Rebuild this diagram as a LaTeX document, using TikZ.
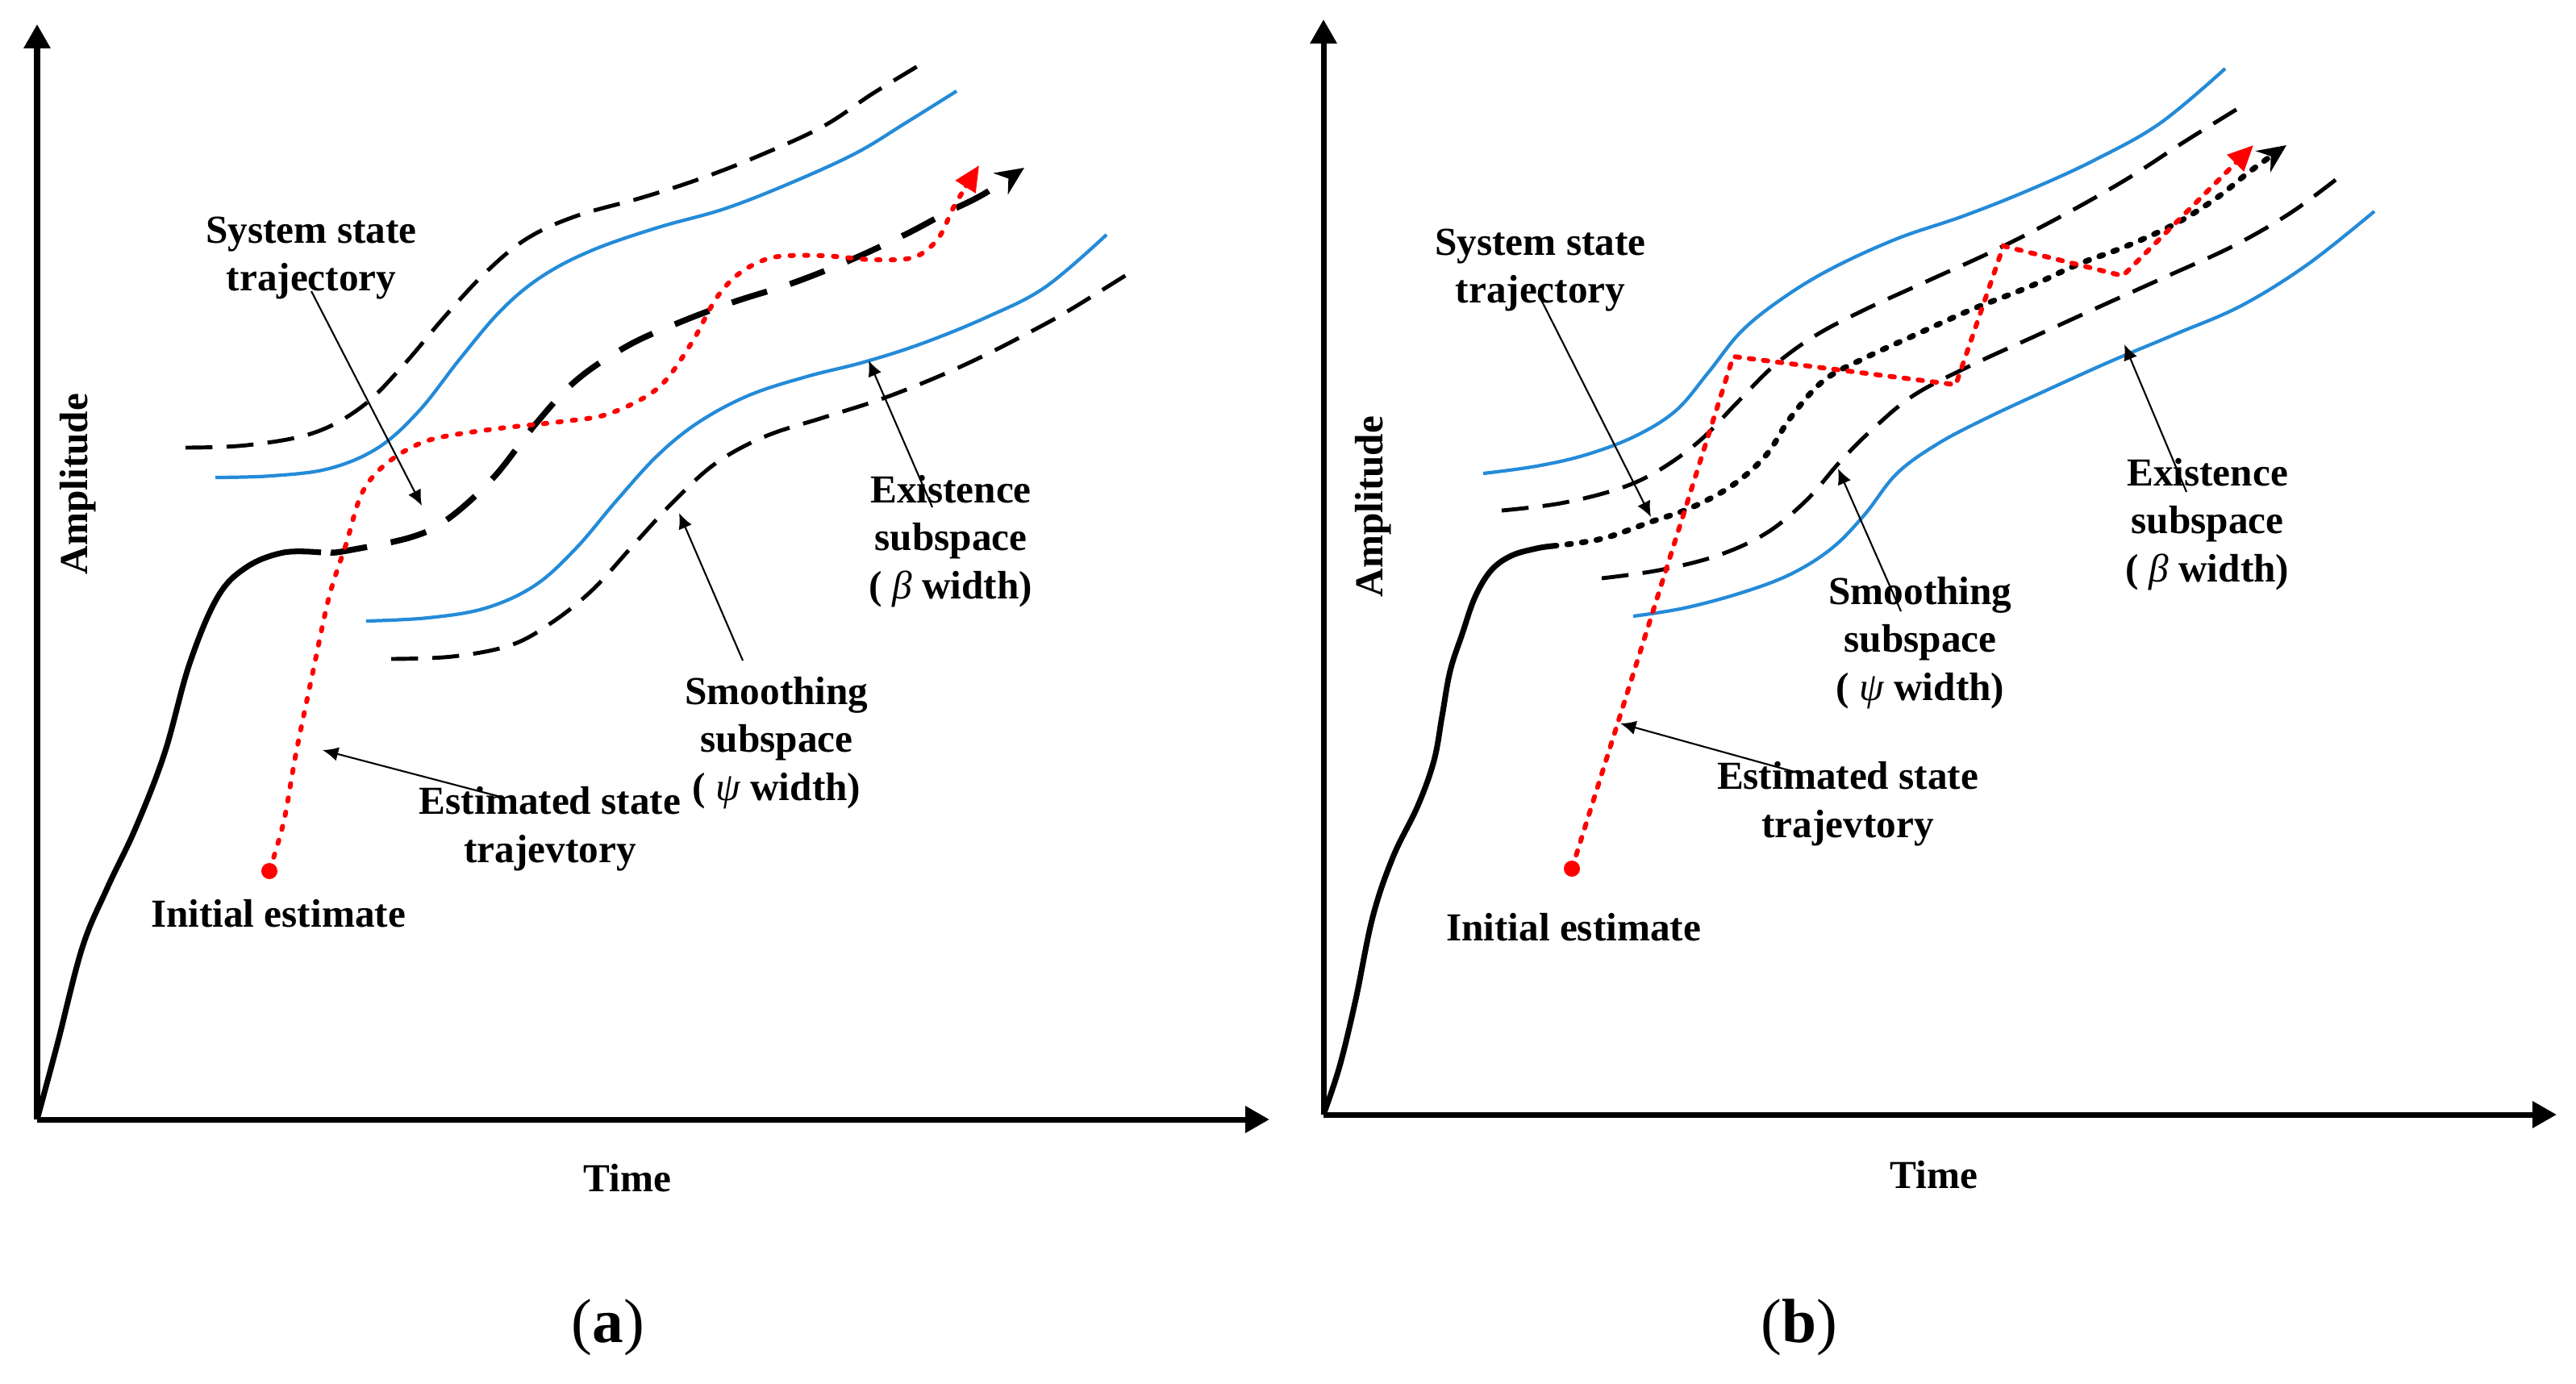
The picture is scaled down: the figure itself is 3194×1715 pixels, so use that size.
\documentclass[tikz,border=0pt]{standalone}
\usepackage{fontspec}
\setmainfont{Liberation Serif}
\usetikzlibrary{arrows.meta}
\definecolor{blueC}{RGB}{36,139,216}
\begin{document}
\begin{tikzpicture}[x=0.01cm,y=-0.01cm,
  lbl/.style={font=\bfseries\fontsize{14}{17}\selectfont, align=center, inner sep=0pt},
  axisline/.style={line width=2pt, -{Triangle[length=8.5pt,width=9pt]}},
  bluecurve/.style={draw=blueC, line width=1.2pt},
  thindash/.style={line width=1.4pt, dash pattern=on 9.5pt off 5pt},
  thickdash/.style={line width=2.1pt, dash pattern=on 13pt off 8.5pt, -{Stealth[length=10pt,width=9pt]}},
  reddot/.style={red, line width=1.7pt, line cap=round, dash pattern=on 1.2pt off 3.9pt, -{Triangle[length=9pt,width=8pt]}},
  reddash/.style={red, line width=1.7pt, line cap=round, dash pattern=on 1.6pt off 3.4pt, -{Triangle[length=9pt,width=8pt]}},
  blackdot/.style={line width=2pt, line cap=round, dash pattern=on 1.4pt off 3.8pt, -{Stealth[length=10pt,width=9pt]}},
  pointer/.style={line width=0.6pt, -{Latex[length=5.5pt,width=5pt]}},
  solidtraj/.style={line width=2pt},
]
\useasboundingbox (0,0) rectangle (3194,1715);

%================ (a) =================
\coordinate (Oa) at (46,1388);
\coordinate (Ya) at (46,30);
\coordinate (Xa) at (1574,1388);
\draw[axisline] (Oa) -- (Ya);
\draw[axisline] (Oa) -- (Xa);
\node[lbl, rotate=90] (ampa) at (97,600) {Amplitude};
\node[lbl] (timea) at (778,1461) {Time};
\node[font=\fontsize{22}{26}\selectfont, inner sep=0pt] (capa) at (754,1646) {(\textbf{a})};

% smoothing boundaries (dashed)
\draw[thindash] plot[smooth, tension=0.6] coordinates {(230,555) (306,552) (388,537) (449,504) (500,453) (551,393) (602,338) (653,296) (714,268) (796,245) (867,222) (939,194) (1020,157) (1082,116) (1143,79)};
\draw[thindash] plot[smooth, tension=0.6] coordinates {(485,817) (561,814) (633,800) (684,772) (735,731) (786,675) (837,620) (888,574) (949,541) (1020,518) (1092,495) (1163,467) (1224,439) (1286,407) (1327,384) (1398,340)};
% existence boundaries (blue)
\draw[bluecurve] plot[smooth, tension=0.6] coordinates {(267,592) (337,590) (408,581) (469,555) (520,509) (571,444) (622,384) (673,342) (735,310) (816,282) (898,259) (980,227) (1061,190) (1122,153) (1186,113)};
\draw[bluecurve] plot[smooth, tension=0.6] coordinates {(454,770) (531,766) (602,754) (663,726) (714,680) (765,620) (816,564) (867,523) (929,490) (1000,467) (1071,449) (1143,426) (1224,393) (1296,356) (1372,291)};

% system state trajectory
\draw[solidtraj] plot[smooth, tension=0.6] coordinates {(46,1388) (71,1295) (102,1175) (133,1101) (168,1027) (204,934) (235,823) (270,740) (306,703) (352,685) (398,685)};
\draw[thickdash] plot[smooth, tension=0.6] coordinates {(410,685) (429,683) (510,666) (556,643) (612,592) (663,527) (714,472) (776,430) (837,402) (908,375) (980,352) (1051,324) (1122,291) (1173,264) (1219,241) (1270,208)};

% estimated trajectory
\draw[reddot] plot[smooth, tension=0.55] coordinates {(334,1080) (352,1018) (367,934) (388,833) (408,740) (429,675) (449,611) (480,574) (531,546) (612,532) (694,523) (755,513) (816,481) (857,426) (888,370) (918,338) (959,319) (1020,317) (1082,322) (1133,319) (1163,296) (1184,254) (1214,205)};
\fill[red] (334,1080) circle[radius=10] coordinate (ia);

% labels
\node[lbl] (ssa) at (386,320) {System state\\trajectory};
\coordinate (ssaS) at (386,361); \coordinate (ssaT) at (523,627);
\draw[pointer] (ssaS) -- (ssaT);
\node[lbl] (exa) at (1179,671) {Existence\\subspace\\( {\mdseries\itshape β} width)};
\coordinate (exaS) at (1156,629); \coordinate (exaT) at (1077,447);
\draw[pointer] (exaS) -- (exaT);
\node[lbl] (sma) at (963,921) {Smoothing\\subspace\\( {\mdseries\itshape ψ} width)};
\coordinate (smaS) at (921,819); \coordinate (smaT) at (842,636);
\draw[pointer] (smaS) -- (smaT);
\node[lbl] (esa) at (682,1028) {Estimated state\\trajevtory};
\coordinate (esaS) at (617,987); \coordinate (esaT) at (400,930);
\draw[pointer] (esaS) -- (esaT);
\node[lbl] (ina) at (345,1133) {Initial estimate};

%================ (b) =================
\coordinate (Ob) at (1641,1382);
\coordinate (Yb) at (1641,24);
\coordinate (Xb) at (3170,1382);
\draw[axisline] (Ob) -- (Yb);
\draw[axisline] (Ob) -- (Xb);
\node[lbl, rotate=90] (ampb) at (1703,628) {Amplitude};
\node[lbl] (timeb) at (2398,1457) {Time};
\node[font=\fontsize{22}{26}\selectfont, inner sep=0pt] (capb) at (2231,1646) {(\textbf{b})};

% existence boundaries (blue)
\draw[bluecurve] plot[smooth, tension=0.6] coordinates {(1839,587) (1905,578) (1966,564) (2027,541) (2078,509) (2118,462) (2159,411) (2210,370) (2271,333) (2352,296) (2434,268) (2515,236) (2596,199) (2678,153) (2759,85)};
\draw[bluecurve] plot[smooth, tension=0.6] coordinates {(2025,764) (2088,754) (2159,735) (2220,712) (2271,680) (2312,638) (2352,587) (2403,550) (2464,518) (2535,485) (2617,448) (2698,414) (2779,379) (2861,328) (2944,262)};
% smoothing boundaries (dashed)
\draw[thindash] plot[smooth, tension=0.6] coordinates {(1862,633) (1935,624) (2007,606) (2057,583) (2108,546) (2154,499) (2200,453) (2251,416) (2312,384) (2393,347) (2474,310) (2556,268) (2637,222) (2708,176) (2779,132)};
\draw[thindash] plot[smooth, tension=0.6] coordinates {(1986,717) (2057,707) (2129,689) (2190,661) (2240,620) (2281,573) (2322,532) (2373,490) (2444,453) (2525,416) (2606,379) (2688,342) (2769,305) (2840,264) (2901,219)};

% system state trajectory
\draw[solidtraj] plot[smooth, tension=0.6] coordinates {(1641,1382) (1661,1322) (1681,1239) (1702,1137) (1727,1063) (1758,999) (1778,943) (1788,888) (1798,832) (1813,786) (1829,740) (1849,707) (1874,689) (1905,680) (1925,677)};
\draw[blackdot] plot[smooth, tension=0.6] coordinates {(1925,677) (1986,668) (2047,647) (2098,629) (2149,601) (2190,564) (2220,518) (2261,472) (2312,444) (2373,416) (2444,384) (2515,356) (2576,328) (2637,305) (2698,277) (2749,245) (2789,213) (2835,180)};

% estimated trajectory
\coordinate (ib) at (1949,1077);
\coordinate (r1) at (2149,442);
\coordinate (r2) at (2425,477);
\coordinate (r3) at (2484,305);
\coordinate (r4) at (2632,342);
\coordinate (r5) at (2794,180);
\draw[reddash] (ib) -- (r1) -- (r2) -- (r3) -- (r4) -- (r5);
\fill[red] (ib) circle[radius=10];

% labels
\node[lbl] (ssb) at (1910,335) {System state\\trajectory};
\coordinate (ssbS) at (1910,370); \coordinate (ssbT) at (2047,641);
\draw[pointer] (ssbS) -- (ssbT);
\node[lbl] (exb) at (2737,650) {Existence\\subspace\\( {\mdseries\itshape β} width)};
\coordinate (exbS) at (2711,610); \coordinate (exbT) at (2634,427);
\draw[pointer] (exbS) -- (exbT);
\node[lbl] (smb) at (2381,797) {Smoothing\\subspace\\( {\mdseries\itshape ψ} width)};
\coordinate (smbS) at (2357,758); \coordinate (smbT) at (2279,581);
\draw[pointer] (smbS) -- (smbT);
\node[lbl] (esb) at (2291,997) {Estimated state\\trajevtory};
\coordinate (esbS) at (2225,957); \coordinate (esbT) at (2009,897);
\draw[pointer] (esbS) -- (esbT);
\node[lbl] (inb) at (1951,1150) {Initial estimate};
\end{tikzpicture}
\end{document}
